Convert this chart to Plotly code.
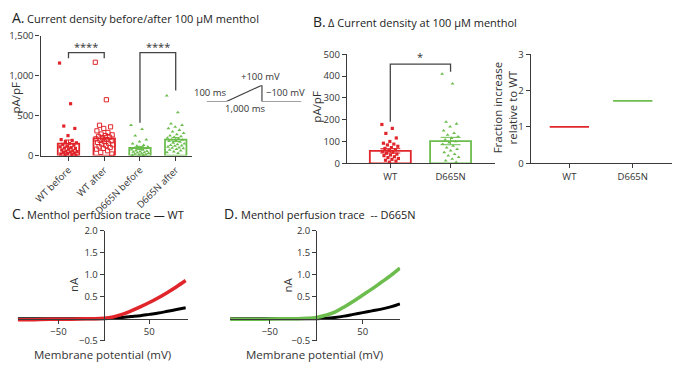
import plotly.graph_objects as go

W, H = 674, 368
RED = "#e0262b"
GREEN = "#6cbd4e"
AX = "#3a3a3a"
FONT = "Open Sans"

# ---------------- data ----------------
groups_a = ["WT before", "WT after", "D665N before", "D665N after"]
means_a = [150, 215, 95, 200]
sems_a = [45, 35, 20, 25]
wt_before = [1160, 650, 370, 340, 250, 200, 190, 175, 160, 150, 140, 130, 120, 110, 100,
             95, 90, 80, 70, 60, 55, 50, 45, 40, 30, 25, 20, 15, 10, 5]
wt_after = [1170, 700, 380, 360, 340, 310, 290, 270, 260, 250, 240, 230, 220, 210, 200,
            190, 185, 175, 165, 155, 145, 135, 125, 110, 100, 90, 80, 60, 40, 20]
d665n_before = [380, 330, 250, 200, 175, 150, 130, 120, 110, 100, 95, 90, 80, 75, 70,
                 60, 55, 50, 45, 40, 35, 30, 25, 20, 15, 10, 8, 5]
d665n_after = [750, 540, 400, 380, 360, 340, 320, 300, 280, 265, 250, 240, 230, 220, 210,
               200, 195, 190, 180, 170, 160, 150, 140, 130, 125, 120, 110, 100, 95, 90,
               80, 70, 60, 50, 40, 30]

groups_b = ["WT", "D665N"]
means_b = [57, 102]
sems_b = [10, 17]
wt_delta = [178, 160, 137, 116, 100, 92, 88, 84, 78, 72, 68, 62, 58, 55, 50, 46, 42, 38,
            35, 30, 26, 22, 18, 14, 10, 5]
d665n_delta = [410, 365, 190, 181, 168, 150, 138, 130, 122, 115, 108, 100, 95, 88, 80,
               72, 65, 58, 50, 42, 35, 28, 20, 12, 5]

fraction_increase = [1.0, 1.72]

voltage_mv = [-95, -80, -60, -40, -20, -10, 0, 10, 20, 30, 40, 50, 60, 70, 80, 90]
wt_menthol_na = [-0.02, -0.02, -0.01, -0.01, 0.0, 0.0, 0.01, 0.04, 0.1, 0.18, 0.27, 0.37,
                 0.48, 0.6, 0.73, 0.87]
wt_base_na = [0.0, 0.0, 0.0, 0.0, 0.0, 0.0, 0.0, 0.01, 0.03, 0.05, 0.07, 0.1, 0.13, 0.17,
              0.21, 0.25]
d665n_menthol_na = [-0.01, -0.01, -0.01, 0.0, 0.0, 0.01, 0.03, 0.08, 0.15, 0.27, 0.40,
                    0.54, 0.68, 0.83, 0.98, 1.15]
d665n_base_na = [0.0, 0.0, 0.0, 0.0, 0.0, 0.0, 0.0, 0.01, 0.03, 0.06, 0.1, 0.14, 0.18,
                 0.22, 0.27, 0.34]

stim_x = [0, 20, 56, 56, 96]
stim_mv = [-100, -100, 100, -100, -100]


def px(x):
    return x / W


def py(y):
    return 1 - y / H


def jitter(n, spread):
    return [spread * (((i * 0.618034) % 1.0) - 0.5) for i in range(n)]


fig = go.Figure()

tickfont = dict(family=FONT, size=9.5, color="#333")
axbase = dict(showgrid=False, zeroline=False, showline=True, linecolor=AX, linewidth=1.3,
              ticks="outside", ticklen=4, tickwidth=1.2, tickcolor=AX, tickfont=tickfont)

# ---------------- Panel A ----------------
styles_a = [
    (RED, "square", 3.2, wt_before),
    (RED, "square-open", 4.2, wt_after),
    (GREEN, "triangle-up", 3.4, d665n_before),
    (GREEN, "triangle-up", 3.4, d665n_after),
]
for i, (col, sym, sz, vals) in enumerate(styles_a):
    fig.add_trace(go.Bar(x=[i], y=[means_a[i]], width=0.6, xaxis="x", yaxis="y",
                         marker=dict(color="rgba(255,255,255,0)", line=dict(color=col, width=1.8)),
                         error_y=dict(type="data", array=[sems_a[i]], color=col, thickness=1,
                                      width=4),
                         showlegend=False, hoverinfo="skip"))
    j = jitter(len(vals), 0.5)
    fig.add_trace(go.Scatter(x=[i + d for d in j], y=vals, mode="markers", xaxis="x",
                             yaxis="y", cliponaxis=False,
                             marker=dict(symbol=sym, size=sz, color=col,
                                         line=dict(color=col, width=1 if "open" in sym else 0)),
                             showlegend=False, hoverinfo="skip"))

# significance brackets (A)
sig_a = [(0, 1, 1290, 1220, 1220, "****"), (2, 3, 1290, 410, 815, "****")]
for a, b, top, la, lb, txt_ in sig_a:
    fig.add_trace(go.Scatter(x=[a, a, b, b], y=[la, top, top, lb], mode="lines",
                             xaxis="x", yaxis="y", line=dict(color="#444", width=1.3),
                             showlegend=False, hoverinfo="skip", cliponaxis=False))
    fig.add_annotation(x=(a + b) / 2, y=top, xref="x", yref="y", text=txt_, showarrow=False,
                       yanchor="bottom", yshift=-3, font=dict(family=FONT, size=11, color="#333"))

fig.update_layout(
    xaxis=dict(axbase, domain=[px(33), px(186)], range=[-0.78, 3.45], anchor="y",
               tickvals=list(range(4)), ticktext=groups_a, tickangle=-45),
    yaxis=dict(axbase, domain=[py(154), py(30)], range=[0, 1500], anchor="x",
               tickvals=[0, 500, 1000, 1500], ticktext=["0", "500", "1,000", "1,500"]),
)

# ---------------- Panel B left ----------------
styles_b = [(RED, "square", 3.2, wt_delta), (GREEN, "triangle-up", 3.4, d665n_delta)]
for i, (col, sym, sz, vals) in enumerate(styles_b):
    fig.add_trace(go.Bar(x=[i], y=[means_b[i]], width=0.68, xaxis="x2", yaxis="y2",
                         marker=dict(color="rgba(255,255,255,0)", line=dict(color=col, width=1.8)),
                         error_y=dict(type="data", array=[sems_b[i]], color=col, thickness=1,
                                      width=10),
                         showlegend=False, hoverinfo="skip"))
    j = jitter(len(vals), 0.28)
    fig.add_trace(go.Scatter(x=[i + d for d in j], y=vals, mode="markers", xaxis="x2",
                             yaxis="y2", cliponaxis=False,
                             marker=dict(symbol=sym, size=sz, color=col, line=dict(width=0)),
                             showlegend=False, hoverinfo="skip"))

sig_b = (0, 1, 455, 190, 420, "*")
fig.add_trace(go.Scatter(x=[sig_b[0], sig_b[0], sig_b[1], sig_b[1]],
                         y=[sig_b[3], sig_b[2], sig_b[2], sig_b[4]], mode="lines",
                         xaxis="x2", yaxis="y2", line=dict(color="#444", width=1.3),
                         showlegend=False, hoverinfo="skip", cliponaxis=False))
fig.add_annotation(x=0.5, y=sig_b[2], xref="x2", yref="y2", text=sig_b[5], showarrow=False,
                   yanchor="bottom", yshift=-2, font=dict(family=FONT, size=11, color="#333"))

fig.update_layout(
    xaxis2=dict(axbase, domain=[px(343), px(493)], range=[-0.72, 1.74], anchor="y2",
                tickvals=[0, 1], ticktext=groups_b),
    yaxis2=dict(axbase, domain=[py(162), py(49)], range=[0, 500], anchor="x2",
                tickvals=[0, 100, 200, 300, 400, 500]),
)

# ---------------- Panel B right ----------------
frac_cols = [RED, GREEN]
for i, v in enumerate(fraction_increase):
    fig.add_trace(go.Scatter(x=[i - 0.31, i + 0.31], y=[v, v], mode="lines", xaxis="x3",
                             yaxis="y3", line=dict(color=frac_cols[i], width=1.8),
                             showlegend=False, hoverinfo="skip"))
fig.update_layout(
    xaxis3=dict(axbase, domain=[px(529), px(672)], range=[-0.61, 1.62], anchor="y3",
                tickvals=[0, 1], ticktext=groups_b),
    yaxis3=dict(axbase, domain=[py(162), py(49)], range=[0, 3], anchor="x3",
                tickvals=[0, 1, 2, 3]),
)

# ---------------- Panels C & D ----------------
def trace_panel(xa, ya, menthol, base, col):
    fig.add_trace(go.Scatter(x=voltage_mv, y=base, mode="lines", xaxis=xa, yaxis=ya,
                             line=dict(color="black", width=3, shape="spline"),
                             showlegend=False, hoverinfo="skip"))
    fig.add_trace(go.Scatter(x=voltage_mv, y=menthol, mode="lines", xaxis=xa, yaxis=ya,
                             line=dict(color=col, width=3.5, shape="spline"),
                             showlegend=False, hoverinfo="skip"))


trace_panel("x4", "y4", wt_menthol_na, wt_base_na, RED)
trace_panel("x5", "y5", d665n_menthol_na, d665n_base_na, GREEN)

ytv = [-0.5, 0.5, 1.0, 1.5, 2.0]
ytt = ["\u22120.5", "0.5", "1.0", "1.5", "2.0"]
fig.update_layout(
    xaxis4=dict(axbase, domain=[px(10), px(182)], range=[-94.6, 92.4], anchor="free",
                position=py(323), tickvals=[-50, 50]),
    yaxis4=dict(axbase, domain=[py(346), py(232)], range=[-0.5, 2.0], anchor="free",
                position=px(97), tickvals=ytv, ticktext=ytt),
    xaxis5=dict(axbase, domain=[px(225), px(397)], range=[-92.5, 90.4], anchor="free",
                position=py(323), tickvals=[-50, 50]),
    yaxis5=dict(axbase, domain=[py(346), py(232)], range=[-0.5, 2.0], anchor="free",
                position=px(312), tickvals=ytv, ticktext=ytt),
)

# ---------------- stimulus protocol ----------------
fig.add_trace(go.Scatter(x=stim_x, y=stim_mv, mode="lines", xaxis="x6", yaxis="y6",
                         line=dict(color="#444", width=1.2), showlegend=False,
                         hoverinfo="skip"))
fig.update_layout(
    xaxis6=dict(domain=[px(201), px(297)], range=[0, 96], visible=False, anchor="y6"),
    yaxis6=dict(domain=[py(98), py(81)], range=[-100, 100], visible=False, anchor="x6"),
)

# ---------------- text ----------------
def txt(x, y, s, size=10, xanchor="center", angle=0, color="#333"):
    fig.add_annotation(x=px(x), y=py(y), xref="paper", yref="paper", text=s,
                       showarrow=False, xanchor=xanchor, yanchor="middle", textangle=angle,
                       font=dict(family=FONT, size=size, color=color))


txt(2, 11, "A.", 14, "left", color="#222")
txt(17, 12, "Current density before/after 100 \u03bcM menthol", 11, "left", color="#222")
txt(307, 15, "B.", 14, "left", color="#222")
txt(322, 16, "\u0394 Current density at 100 \u03bcM menthol", 11, "left", color="#222")
txt(2, 214, "C.", 14, "left", color="#222")
txt(17, 215, "Menthol perfusion trace \u2014 WT", 11, "left", color="#222")
txt(217, 214, "D.", 14, "left", color="#222")
txt(234, 215, "Menthol perfusion trace  -- D665N", 11, "left", color="#222")

txt(8, 94, "pA/pF", 11.5, angle=-90)
txt(312, 103, "pA/pF", 11.5, angle=-90)
txt(503, 105, "Fraction increase<br>relative to WT", 11.5, angle=-90)
txt(67, 288, "nA", 11.5, angle=-90)
txt(283, 288, "nA", 11.5, angle=-90)
txt(96, 360, "Membrane potential (mV)", 11.5)
txt(310, 360, "Membrane potential (mV)", 11.5)

txt(205, 89, "100 ms", 9.5)
txt(256, 72, "+100 mV", 9.5)
txt(281, 89, "\u2212100 mV", 9.5)
txt(240, 105, "1,000 ms", 9.5)

fig.update_layout(width=W, height=H, margin=dict(l=0, r=0, t=0, b=0),
                  paper_bgcolor="white", plot_bgcolor="white", showlegend=False,
                  barmode="overlay", font=dict(family=FONT, color="#333"))

fig.write_html("out.html", config={"displayModeBar": False},
               post_script="document.body.style.margin='0';")
